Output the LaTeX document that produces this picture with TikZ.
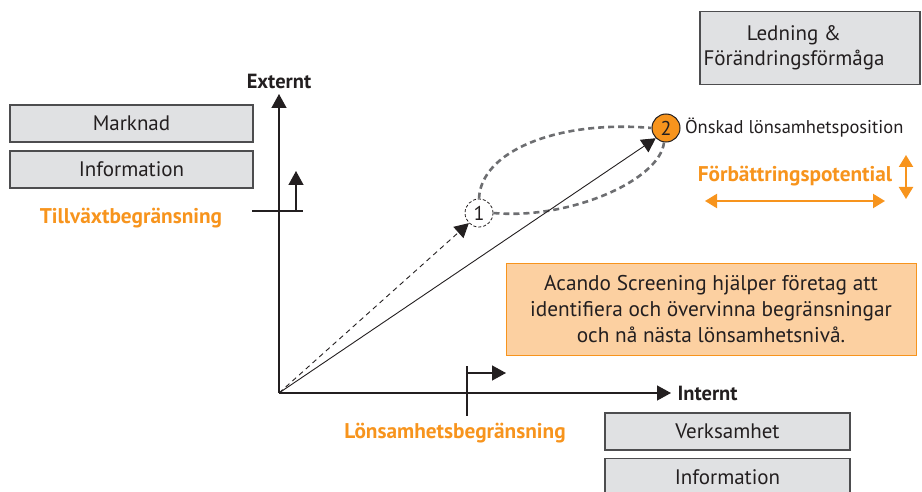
\documentclass[tikz,border=0pt]{standalone}
\usepackage{fontspec}
\setmainfont{PT Sans}
\usepackage{tikz}
\usetikzlibrary{arrows.meta, positioning, calc}

\definecolor{acorange}{HTML}{F7941D}
\definecolor{acpeach}{HTML}{FCD0A1}
\definecolor{boxgray}{HTML}{E0E1E3}
\definecolor{edgegray}{HTML}{4D4D4F}
\definecolor{loopgray}{HTML}{6D6E71}
\definecolor{textdark}{HTML}{231F20}

\begin{document}
\begin{tikzpicture}[
    x=1pt, y=-1pt,
    >={Triangle[length=14pt, width=15pt]},
    graybox/.style={rectangle, draw=edgegray, fill=boxgray, line width=1.2pt, minimum width=243pt, minimum height=37pt, inner sep=0pt, text=textdark, font=\fontsize{21}{25}\selectfont, align=center},
    notebox/.style={rectangle, draw=acorange, fill=acpeach, line width=1pt, minimum width=410pt, minimum height=92pt, inner sep=0pt, text=textdark, font=\fontsize{21.3}{26}\selectfont, align=center},
    axislabel/.style={font=\fontsize{20.5}{22}\selectfont\bfseries, text=textdark},
    limitlabel/.style={font=\fontsize{21.3}{24}\selectfont\bfseries, text=acorange},
    posdot/.style={circle, minimum size=28pt, inner sep=0pt, font=\fontsize{20}{20}\selectfont, text=textdark},
    axisline/.style={line width=1.3pt, textdark},
    looppath/.style={line width=2.6pt, loopgray, dash pattern=on 6pt off 4pt},
]
\useasboundingbox (0,0) rectangle (922,492);

% Boxes
\node[graybox, minimum width=220pt, minimum height=73pt] (ledning) at (810,48) {};
\node[font=\fontsize{21}{25}\selectfont, text=textdark, align=center] (ledningtext) at (794,48) {Ledning \&\\Förändringsförmåga};
\node[graybox] (marknad) at (131.5,123.5) {Marknad};
\node[graybox] (infoext) at (131.5,169.5) {Information};
\node[graybox, minimum width=245pt] (verksamhet) at (727.5,431.5) {Verksamhet};
\node[graybox, minimum width=245pt] (infoint) at (727.5,477) {Information};
\node[notebox] (acando) at (711,309) {Acando Screening hjälper företag att\\identifiera och övervinna begränsningar\\och nå nästa lönsamhetsnivå.};

% Axes
\coordinate (origo) at (279,393);
\coordinate (ytop) at (279,94);
\coordinate (xend) at (671,393);
\draw[axisline, ->] (origo) -- (ytop);
\draw[axisline, ->] (origo) -- (xend);
\node[axislabel, above=2pt of ytop] (externt) {Externt};
\node[axislabel, right=3pt of xend] (internt) {Internt};

% Growth limit
\coordinate (ytick) at (279,211);
\draw[axisline, line width=2pt] ([xshift=-27pt]ytick) -- ([xshift=24pt]ytick);
\coordinate (yarrow) at (296,211);
\draw[axisline, ->] (yarrow) -- ++(0,-40);
\node[limitlabel] (tillvaxt) at (131,218) {Tillväxtbegränsning};

% Profitability limit
\coordinate (xtick) at (467,393);
\draw[axisline, line width=2pt] ([yshift=27pt]xtick) -- ([yshift=-23pt]xtick);
\coordinate (xarrow) at (467,373);
\draw[axisline, ->] (xarrow) -- ++(39,0);
\node[limitlabel] (lonsamhet) at (455,433) {Lönsamhetsbegränsning};

% Positions
\node[posdot, draw=textdark, densely dashed, line width=0.8pt] (pos1) at (479,213) {1};
\node[posdot, draw=textdark, fill=acorange, line width=1pt] (pos2) at (666,128) {2};
\node[right=1pt of pos2, font=\fontsize{18.5}{22}\selectfont, text=textdark] (onskad) {Önskad lönsamhetsposition};

% Loop between 1 and 2
\draw[looppath] (pos1.north) .. controls (481,150) and (560,120) .. (pos2.west);
\draw[looppath] ([xshift=-2pt]pos2.south) .. controls (660,180) and (570,220) .. (pos1.east);

% Paths from origin
\draw[line width=0.9pt, textdark, dash pattern=on 5pt off 4pt, ->] (origo) -- (pos1.south west);
\draw[line width=0.9pt, textdark, ->] (origo) -- (pos2.south west);

% Improvement potential
\node[limitlabel] (potential) at (795,176) {Förbättringspotential};
\coordinate (hleft) at (705,201);
\coordinate (hright) at (885,201);
\draw[acorange, line width=2.2pt, {Triangle[length=12pt, width=14pt]}-{Triangle[length=12pt, width=14pt]}] (hleft) -- (hright);
\coordinate (vtop) at (906,155);
\coordinate (vbot) at (906,199);
\draw[acorange, line width=2.2pt, {Triangle[length=12pt, width=14pt]}-{Triangle[length=12pt, width=14pt]}] (vtop) -- (vbot);

\end{tikzpicture}
\end{document}
